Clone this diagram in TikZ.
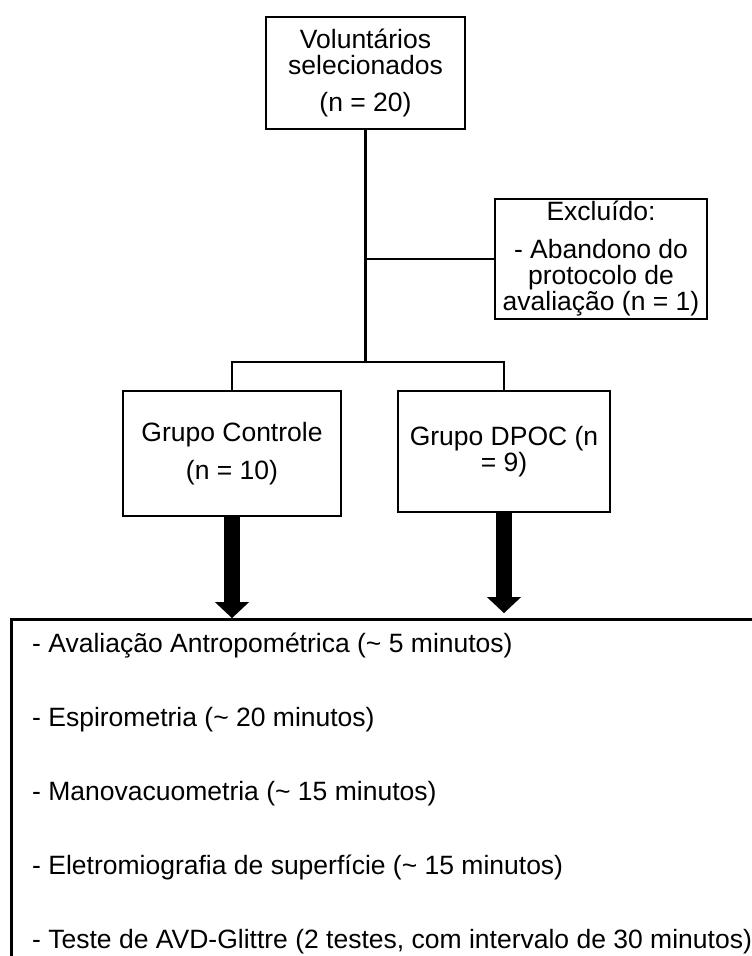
\documentclass[tikz,border=0pt]{standalone}
\usepackage{fontspec}
\setmainfont{Liberation Sans}
\usetikzlibrary{arrows.meta}
\begin{document}
\begin{tikzpicture}[x=1pt,y=-1pt,
  box/.style={draw=black, line width=2.6pt, fill=white, inner sep=0pt, align=center,
    font=\fontsize{26.5}{26}\selectfont},
  conn/.style={draw=black, line width=2.2pt},
  fat/.style={draw=black, line width=16pt,
    -{Triangle[width=34pt,length=16pt,line width=0.01pt]}},
  item/.style={anchor=base west, inner sep=0pt, font=\fontsize{26.5}{26}\selectfont}]
\useasboundingbox (0,0) rectangle (752,956);

\node[box, minimum width=199pt, minimum height=112pt] (vol) at (365.5,73)
  {Voluntários\\selecionados\\[11pt](n = 20)};
\node[box, minimum width=212pt, minimum height=120pt] (exc) at (601,259)
  {Excluído:\\[12pt]- Abandono do\\protocolo de\\avaliação (n = 1)};
\node[box, minimum width=218pt, minimum height=125pt] (ctrl) at (232,453.5)
  {Grupo Controle\\[12pt](n = 10)};
\node[box, minimum width=212pt, minimum height=121pt] (dpoc) at (504,451.5)
  {Grupo DPOC (n\\= 9)};
\node[draw=black, line width=2.6pt, inner sep=0pt, minimum width=790pt,
  minimum height=370pt, anchor=north west] (tests) at (10,618) {};

\coordinate (split) at (365.5,362);

\draw[conn] (vol.south) -- (split);
\draw[conn] (vol.south |- exc.west) -- (exc.west);
\draw[conn] (ctrl.north) -- (ctrl.north |- split) -- (dpoc.north |- split) -- (dpoc.north);

\draw[fat] (ctrl.south) -- (ctrl.south |- tests.north);
\draw[fat, shorten >=5pt] (dpoc.south) -- (dpoc.south |- tests.north);

\node[item] (t1) at (32,652) {- Avaliação Antropométrica (\textasciitilde{} 5 minutos)};
\node[item] (t2) at (32,726) {- Espirometria (\textasciitilde{} 20 minutos)};
\node[item] (t3) at (32,800) {- Manovacuometria (\textasciitilde{} 15 minutos)};
\node[item] (t4) at (32,874) {- Eletromiografia de superfície (\textasciitilde{} 15 minutos)};
\node[item] (t5) at (32,948) {- Teste de AVD-Glittre (2 testes, com intervalo de 30 minutos)};
\end{tikzpicture}
\end{document}
